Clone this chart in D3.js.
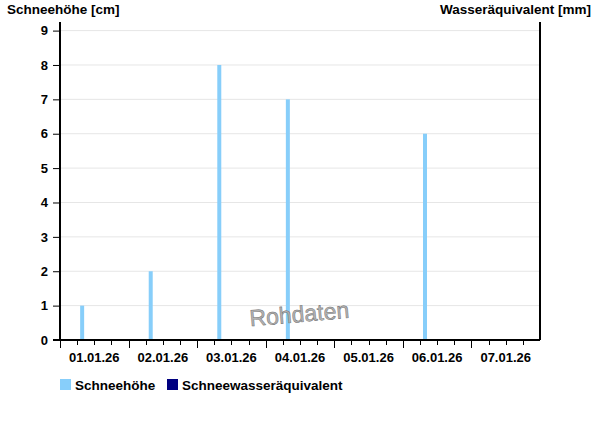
<!DOCTYPE html>
<html>
<head>
<meta charset="utf-8">
<script src="https://cdn.jsdelivr.net/npm/d3@7"></script>
<style>
  body { margin: 0; background: #fff; }
  text { font-family: "Liberation Sans", Arial, sans-serif; }
</style>
</head>
<body>
<script>
// measurement times and snow depth in cm
var times = ['2026-01-01T07:45', '2026-01-02T07:45', '2026-01-03T07:45', '2026-01-04T07:45',
             '2026-01-05T07:45', '2026-01-06T07:45', '2026-01-07T07:45'];
var snowDepth = [1, 2, 8, 7, 0, 6, 0];
var waterEquiv = [null, null, null, null, null, null, null];
var yTicks = [0, 1, 2, 3, 4, 5, 6, 7, 8, 9];
var dayLabels = ['01.01.26', '02.01.26', '03.01.26', '04.01.26', '05.01.26', '06.01.26', '07.01.26'];
var legendNames = ['Schneehöhe', 'Schneewasseräquivalent'];
var legendColors = ['#87cefa', '#000080'];

var W = 600, H = 426;
var margin = {left: 60, right: 60, top: 22, bottom: 86};
var width = W - margin.left - margin.right;
var height = H - margin.top - margin.bottom;

var parse = d3.timeParse('%Y-%m-%dT%H:%M');
var start = new Date(2026, 0, 1), end = new Date(2026, 0, 8);

var svg = d3.select('body').append('svg').attr('width', W).attr('height', H);
var g = svg.append('g').attr('transform', 'translate(' + margin.left + ',' + margin.top + ')');

var x = d3.scaleTime().domain([start, end]).range([0, width]);
var y = d3.scaleLinear().domain([0, 9.25]).range([height, 0]);

// grid
g.selectAll('.grid').data(yTicks.slice(1)).enter().append('line')
  .attr('x1', 0).attr('x2', width)
  .attr('y1', function(d) { return y(d); }).attr('y2', function(d) { return y(d); })
  .attr('stroke', '#e6e6e6').attr('stroke-width', 1);

// watermark
svg.append('text')
  .attr('transform', 'translate(300,322) rotate(-5)')
  .attr('text-anchor', 'middle')
  .attr('font-size', 23)
  .attr('fill', '#b4b4b4').attr('stroke', '#707070').attr('stroke-width', 0.5)
  .text('Rohdaten');

// bars
g.selectAll('.bar').data(snowDepth).enter().append('rect')
  .attr('x', function(d, i) { return x(parse(times[i])) - 2; })
  .attr('width', 4)
  .attr('y', function(d) { return y(d); })
  .attr('height', function(d) { return height - y(d); })
  .attr('fill', legendColors[0]);

// y axis left
var yAxis = d3.axisLeft(y).tickValues(yTicks).tickSize(7).tickPadding(5);
var ya = g.append('g').call(yAxis);
ya.selectAll('text').attr('font-size', 13).attr('font-weight', 'bold').attr('fill', '#000');

// right axis line
g.append('line').attr('x1', width).attr('x2', width).attr('y1', 0).attr('y2', height)
  .attr('stroke', '#000').attr('stroke-width', 2);

// x axis
var minorTicks = d3.timeHour.every(6).range(start, end);
var xa = g.append('g').attr('transform', 'translate(0,' + height + ')');
xa.append('line').attr('x1', -7).attr('x2', width).attr('y1', 0).attr('y2', 0)
  .attr('stroke', '#000').attr('stroke-width', 2);
xa.selectAll('.tk').data(minorTicks).enter().append('line')
  .attr('x1', function(d) { return Math.round(x(d)) + 0.5; })
  .attr('x2', function(d) { return Math.round(x(d)) + 0.5; })
  .attr('y1', 0)
  .attr('y2', function(d) { return d.getHours() === 0 ? 8 : 5; })
  .attr('stroke', '#000');
xa.selectAll('.lbl').data(dayLabels).enter().append('text')
  .attr('x', function(d, i) { return x(d3.timeHour.offset(start, 24 * i + 12)); })
  .attr('y', 22)
  .attr('text-anchor', 'middle')
  .attr('font-size', 13).attr('font-weight', 'bold')
  .text(function(d) { return d; });

ya.select('.domain').attr('stroke-width', 2).attr('d', 'M-0,' + height + 'V0');

// titles
svg.append('text').attr('x', 7).attr('y', 14).attr('font-size', 13.5).attr('font-weight', 'bold')
  .text('Schneehöhe [cm]');
svg.append('text').attr('x', 591).attr('y', 14).attr('text-anchor', 'end')
  .attr('font-size', 13.5).attr('font-weight', 'bold').text('Wasseräquivalent [mm]');

// legend
var legX = [60, 167];
var lg = svg.selectAll('.leg').data(legendNames).enter().append('g')
  .attr('transform', function(d, i) { return 'translate(' + legX[i] + ',379)'; });
lg.append('rect').attr('width', 11).attr('height', 11)
  .attr('fill', function(d, i) { return legendColors[i]; });
lg.append('text').attr('x', 15).attr('y', 10.5).attr('font-size', 13.5).attr('font-weight', 'bold')
  .text(function(d) { return d; });
</script>
</body>
</html>
